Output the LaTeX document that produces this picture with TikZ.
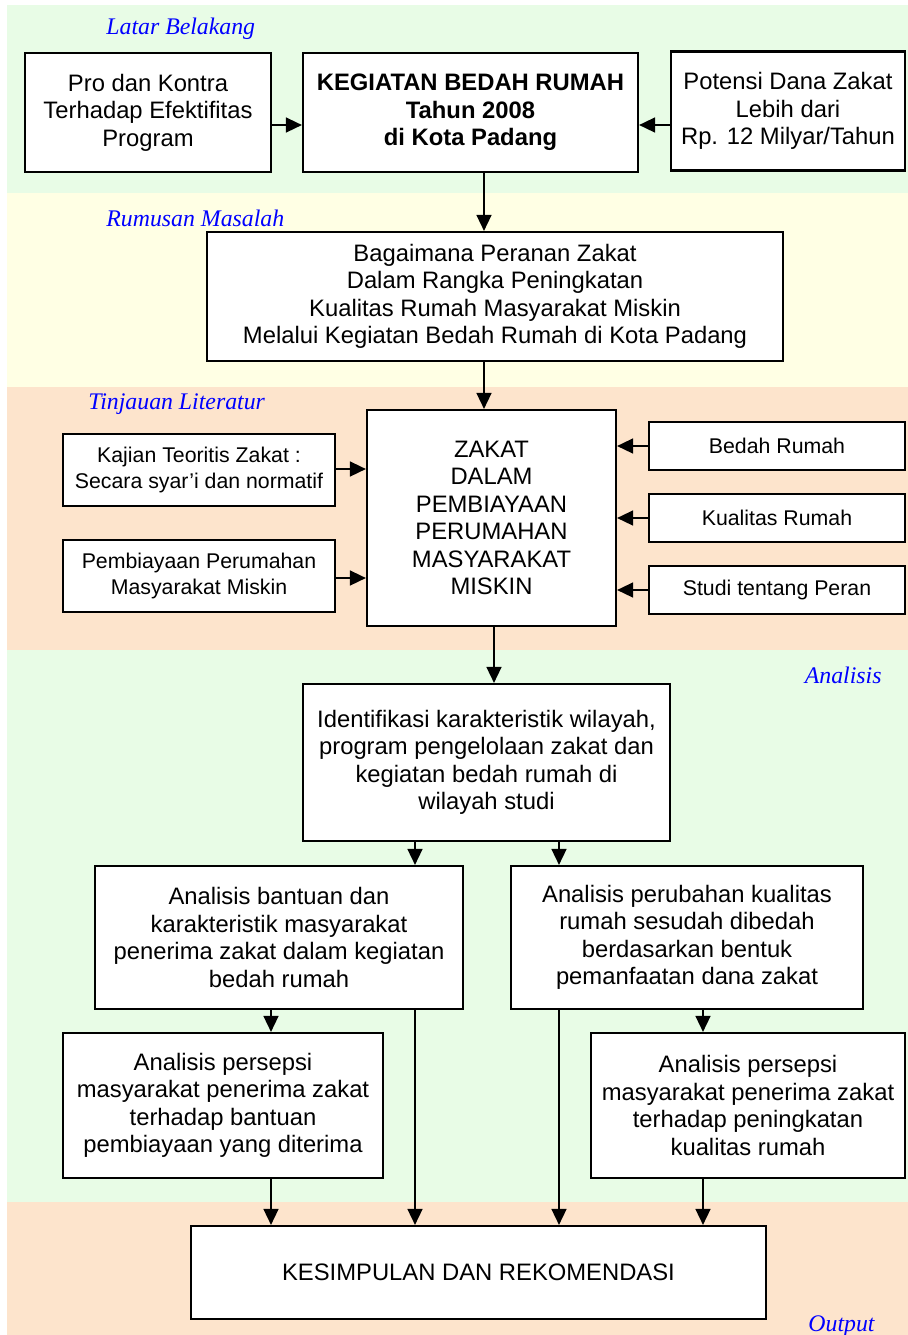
\documentclass[tikz,border=0pt]{standalone}
\usepackage{fontspec}
\setmainfont{Liberation Sans}
\newfontfamily\bandfont{Liberation Serif}
\usetikzlibrary{arrows.meta}
\definecolor{bandgreen}{RGB}{232,252,230}
\definecolor{bandyellow}{RGB}{255,255,228}
\definecolor{bandpeach}{RGB}{253,228,204}
\begin{document}
\begin{tikzpicture}[x=0.5pt, y=-0.5pt,
    box/.style={draw, line width=1.1pt, fill=white, align=center, inner sep=2pt,
      font=\fontsize{11.9}{13.75}\selectfont},
    smallbox/.style={box, font=\fontsize{10.65}{13}\selectfont},
    bandlabel/.style={text=blue, font=\bandfont\itshape\fontsize{11.9}{13.75}\selectfont, inner sep=0pt},
    arr/.style={line width=0.8pt, -{Triangle[length=8pt, width=7.5pt]}}]
    \useasboundingbox (0,0) rectangle (908,1335);
    \fill[bandgreen] (7,5) rectangle (908,193);
    \fill[bandyellow] (7,193) rectangle (908,387);
    \fill[bandpeach] (7,387) rectangle (908,650);
    \fill[bandgreen] (7,650) rectangle (908,1202);
    \fill[bandpeach] (7,1202) rectangle (908,1335);
    \node[bandlabel, anchor=west] (latar) at (106,29) {Latar Belakang};
    \node[bandlabel, anchor=west] (rumusan) at (106,218) {Rumusan Masalah};
    \node[bandlabel, anchor=west] (tinjauan) at (88,404) {Tinjauan Literatur};
    \node[bandlabel, anchor=east] (analisis) at (882,675) {Analisis};
    \node[bandlabel, anchor=east] (output) at (875,1326) {Output};
    \node[box, minimum width=123pt, minimum height=59.5pt] (prokontra) at (148,112.5)
      {Pro dan Kontra\\Terhadap Efektifitas\\Program};
    \node[box, minimum width=167.5pt, minimum height=59.5pt, font=\bfseries\fontsize{11.9}{13.75}\selectfont] (kegiatan) at (470.5,112.5)
      {KEGIATAN BEDAH RUMAH\\Tahun 2008\\di Kota Padang};
    \node[box, minimum width=117pt, minimum height=59.5pt] (potensi) at (788,111)
      {Potensi Dana Zakat\\Lebih dari\\Rp. 12 Milyar/Tahun};
    \node[box, minimum width=288pt, minimum height=64.5pt] (masalah) at (495,296.5)
      {Bagaimana Peranan Zakat\\Dalam Rangka Peningkatan\\Kualitas Rumah Masyarakat Miskin\\Melalui Kegiatan Bedah Rumah di Kota Padang};
    \node[box, minimum width=124.5pt, minimum height=108pt] (zakat) at (491.5,518)
      {ZAKAT\\DALAM\\PEMBIAYAAN\\PERUMAHAN\\MASYARAKAT\\MISKIN};
    \node[smallbox, minimum width=136pt, minimum height=36pt] (kajian) at (199,470)
      {Kajian Teoritis Zakat :\\Secara syar'i dan normatif};
    \node[smallbox, minimum width=136pt, minimum height=36pt] (pembiayaan) at (199,576)
      {Pembiayaan Perumahan\\Masyarakat Miskin};
    \node[smallbox, minimum width=128pt, minimum height=24pt] (bedah) at (777,446) {Bedah Rumah};
    \node[smallbox, minimum width=128pt, minimum height=24pt] (kualitas) at (777,518) {Kualitas Rumah};
    \node[smallbox, minimum width=128pt, minimum height=24pt] (studi) at (777,590) {Studi tentang Peran};
    \node[box, minimum width=183.5pt, minimum height=78.5pt] (identifikasi) at (486.5,762.5)
      {Identifikasi karakteristik wilayah,\\program pengelolaan zakat dan\\kegiatan bedah rumah di\\wilayah studi};
    \node[box, minimum width=184pt, minimum height=71.5pt] (bantuan) at (279,937.5)
      {Analisis bantuan dan\\karakteristik masyarakat\\penerima zakat dalam kegiatan\\bedah rumah};
    \node[box, minimum width=176pt, minimum height=71.5pt] (perubahan) at (687,937.5)
      {Analisis perubahan kualitas\\rumah sesudah dibedah\\berdasarkan bentuk\\pemanfaatan dana zakat};
    \node[box, minimum width=160pt, minimum height=72.5pt] (persepsikiri) at (223,1105.5)
      {Analisis persepsi\\masyarakat penerima zakat\\terhadap bantuan\\pembiayaan yang diterima};
    \node[box, minimum width=157pt, minimum height=72.5pt] (persepsikanan) at (748,1105.5)
      {Analisis persepsi\\masyarakat penerima zakat\\terhadap peningkatan\\kualitas rumah};
    \node[box, minimum width=287.5pt, minimum height=46.5pt] (kesimpulan) at (478.5,1272.5)
      {KESIMPULAN DAN REKOMENDASI};
    \draw[arr] (prokontra.east |- 0,125) -- (kegiatan.west |- 0,125);
    \draw[arr] (potensi.west |- 0,125) -- (kegiatan.east |- 0,125);
    \draw[arr] (kegiatan.south -| 484,0) -- (masalah.north -| 484,0);
    \draw[arr] (masalah.south -| 484,0) -- (zakat.north -| 484,0);
    \draw[arr] (kajian.east |- 0,469) -- (zakat.west |- 0,469);
    \draw[arr] (pembiayaan.east |- 0,578) -- (zakat.west |- 0,578);
    \draw[arr] (bedah.west) -- (zakat.east |- bedah.west);
    \draw[arr] (kualitas.west) -- (zakat.east |- kualitas.west);
    \draw[arr] (studi.west) -- (zakat.east |- studi.west);
    \draw[arr] (zakat.south -| 494,0) -- (identifikasi.north -| 494,0);
    \draw[arr] (identifikasi.south -| 415,0) -- (bantuan.north -| 415,0);
    \draw[arr] (identifikasi.south -| 559,0) -- (perubahan.north -| 559,0);
    \draw[arr] (bantuan.south -| 271,0) -- (persepsikiri.north -| 271,0);
    \draw[arr] (perubahan.south -| 703,0) -- (persepsikanan.north -| 703,0);
    \draw[arr] (persepsikiri.south -| 271,0) -- (kesimpulan.north -| 271,0);
    \draw[arr] (bantuan.south -| 415,0) -- (kesimpulan.north -| 415,0);
    \draw[arr] (perubahan.south -| 559,0) -- (kesimpulan.north -| 559,0);
    \draw[arr] (persepsikanan.south -| 703,0) -- (kesimpulan.north -| 703,0);
\end{tikzpicture}
\end{document}
